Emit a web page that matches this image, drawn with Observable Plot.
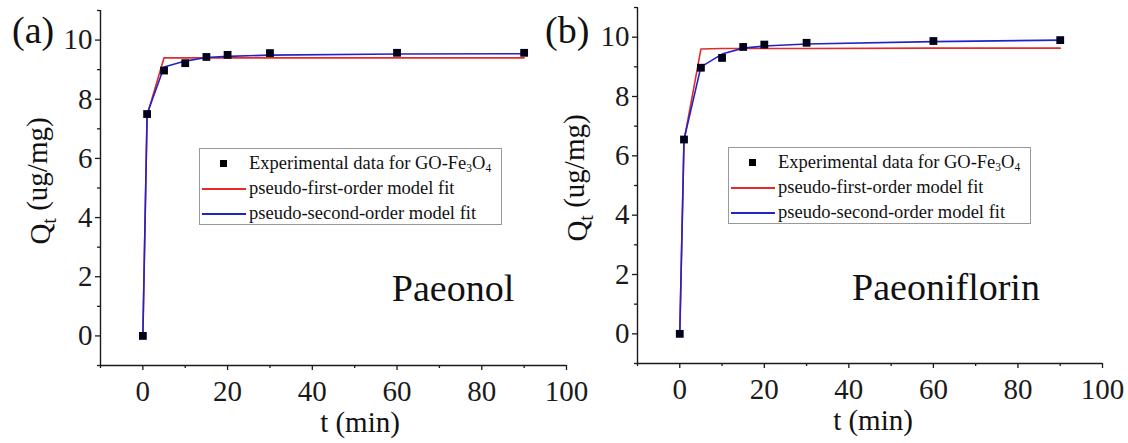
<!DOCTYPE html>
<html><head><meta charset="utf-8">
<script src="https://cdn.jsdelivr.net/npm/d3@7"></script>
<script src="https://cdn.jsdelivr.net/npm/@observablehq/plot@0.6"></script>
<style>
body{margin:0;background:#fff;width:1128px;height:443px;position:relative;overflow:hidden;font-family:"Liberation Serif","Times New Roman",serif}
.panel{position:absolute;top:0}
.legend{position:absolute;box-sizing:border-box;width:303px;height:77px;border:1px solid #999;background:#fff;font-size:18.5px;color:#111;padding-top:2px}
.row{position:relative;height:25px;line-height:25px;white-space:nowrap}
.row .txt{position:absolute;left:49px;top:0}
.row .sq{position:absolute;left:20px;top:9px;width:7px;height:7px;background:#000}
.row .ln{position:absolute;left:2px;top:12px;width:44px;height:2px}
sub{font-size:0.62em;vertical-align:-0.25em;line-height:0}
</style></head><body>
<div id="pa" class="panel" style="left:0;width:580px"></div>
<div id="pb" class="panel" style="left:540px;width:588px"></div>
<div id="la" class="legend" style="left:199px;top:148px"></div>
<div id="lb" class="legend" style="left:728px;top:147px"></div>
<script>
// ---- data ----
const times = [0, 1, 5, 10, 15, 20, 30, 60, 90];
const paeonolExp = [0, 7.5, 8.97, 9.22, 9.43, 9.5, 9.56, 9.57, 9.57];
const paeonolPFO = [0, 7.46, 9.40, 9.40, 9.40, 9.40, 9.40, 9.40, 9.40];
const paeonolPSO = [0, 7.5, 9.09, 9.29, 9.41, 9.45, 9.49, 9.53, 9.54];
const paeoniflorinExp = [0, 6.55, 8.97, 9.3, 9.67, 9.75, 9.81, 9.87, 9.9];
const paeoniflorinPFO = [0, 6.5, 9.6, 9.62, 9.62, 9.62, 9.62, 9.63, 9.63];
const paeoniflorinPSO = [0, 6.55, 9.0, 9.43, 9.63, 9.7, 9.77, 9.85, 9.9];
const xMajor = [0, 20, 40, 60, 80, 100];
const xMinor = [-10, 10, 30, 50, 70, 90];
const yMajor = [0, 2, 4, 6, 8, 10];
const yMinor = [-1, 1, 3, 5, 7, 9, 11];
const seriesNames = ["Experimental data for GO-Fe<sub>3</sub>O<sub>4</sub>", "pseudo-first-order model fit", "pseudo-second-order model fit"];
const RED = "#e42a2a", BLUE = "#2222c8", AXIS = "#1a1a1a";
const FONT = "serif";

function panel(exp, pfo, pso, o) {
  const rows = times.map((t, i) => ({t, exp: exp[i], pfo: pfo[i], pso: pso[i]}));
  const svg = Plot.plot({
    width: o.width, height: 443,
    marginLeft: o.ml, marginRight: o.mr, marginTop: o.mt, marginBottom: o.mb,
    style: {fontFamily: FONT, fontSize: "29px", color: AXIS, background: "transparent", overflow: "visible", maxWidth: "none"},
    x: {domain: [-10, 100], label: null},
    y: {domain: [-1, 11], label: null},
    marks: [
      Plot.axisX({ticks: xMajor, tickSize: 5, tickPadding: 10, label: null, strokeWidth: 1.3}),
      Plot.axisX({ticks: xMinor, tickSize: 3, tickFormat: () => "", label: null, strokeWidth: 1.3}),
      Plot.axisY({ticks: yMajor, tickSize: 5, tickPadding: 3, label: null, strokeWidth: 1.3}),
      Plot.axisY({ticks: yMinor, tickSize: 3, tickFormat: () => "", label: null, strokeWidth: 1.3}),
      Plot.ruleX([-10], {stroke: AXIS, strokeWidth: 1.4}),
      Plot.ruleY([-1], {stroke: AXIS, strokeWidth: 1.4}),
      Plot.lineY(rows, {x: "t", y: "pfo", stroke: RED, strokeWidth: 1.6}),
      Plot.lineY(rows, {x: "t", y: "pso", stroke: BLUE, strokeWidth: 1.6}),
      Plot.dot(rows, {x: "t", y: "exp", symbol: "square", fill: "#000018", stroke: null, r: 4.4})
    ]
  });
  const s = d3.select(svg);
  s.attr("font-family", FONT);
  const yl = s.append("text").attr("transform", `translate(${o.ylx},${o.yly}) rotate(-90)`)
    .attr("text-anchor", "middle").attr("font-size", 29).attr("fill", "#111");
  yl.append("tspan").text("Q");
  yl.append("tspan").attr("font-size", 20).attr("dy", "0.3em").text("t");
  yl.append("tspan").attr("dy", "-0.3em").text(" (ug/mg)");
  s.append("text").attr("x", o.xlx).attr("y", o.xly).attr("text-anchor", "middle")
    .attr("font-size", 29).attr("fill", "#111").text("t (min)");
  s.append("text").attr("x", o.tagx).attr("y", 43).attr("text-anchor", "start").attr("font-size", 38).attr("fill", "#111").text(o.tag);
  s.append("text").attr("x", o.namex).attr("y", o.namey).attr("text-anchor", "middle")
    .attr("font-size", 38).attr("fill", "#111").text(o.name);
  s.selectAll("g").attr("font-variant", null).attr("font-family", FONT);
  s.selectAll("text").attr("font-family", FONT).style("font-family", FONT);
  return svg;
}

document.getElementById("pa").append(panel(paeonolExp, paeonolPFO, paeonolPSO,
  {width: 580, ml: 100, mr: 14, mt: 10, mb: 78, ylx: 50, yly: 181, xlx: 360, xly: 432, tag: "(a)", tagx: 12, name: "Paeonol", namex: 453, namey: 301}));
document.getElementById("pb").append(panel(paeoniflorinExp, paeoniflorinPFO, paeoniflorinPSO,
  {width: 588, ml: 97, mr: 26, mt: 7, mb: 80, ylx: 47, yly: 178, xlx: 333, xly: 430, tag: "(b)", tagx: 5, name: "Paeoniflorin", namex: 406, namey: 300}));

function legend(el) {
  const kinds = ["sq", RED, BLUE];
  kinds.forEach((k, i) => {
    const r = document.createElement("div");
    r.className = "row";
    r.innerHTML = (k === "sq" ? '<span class="sq"></span>' : `<span class="ln" style="background:${k}"></span>`)
      + `<span class="txt">${seriesNames[i]}</span>`;
    el.append(r);
  });
}
legend(document.getElementById("la"));
legend(document.getElementById("lb"));
</script>
</body></html>
